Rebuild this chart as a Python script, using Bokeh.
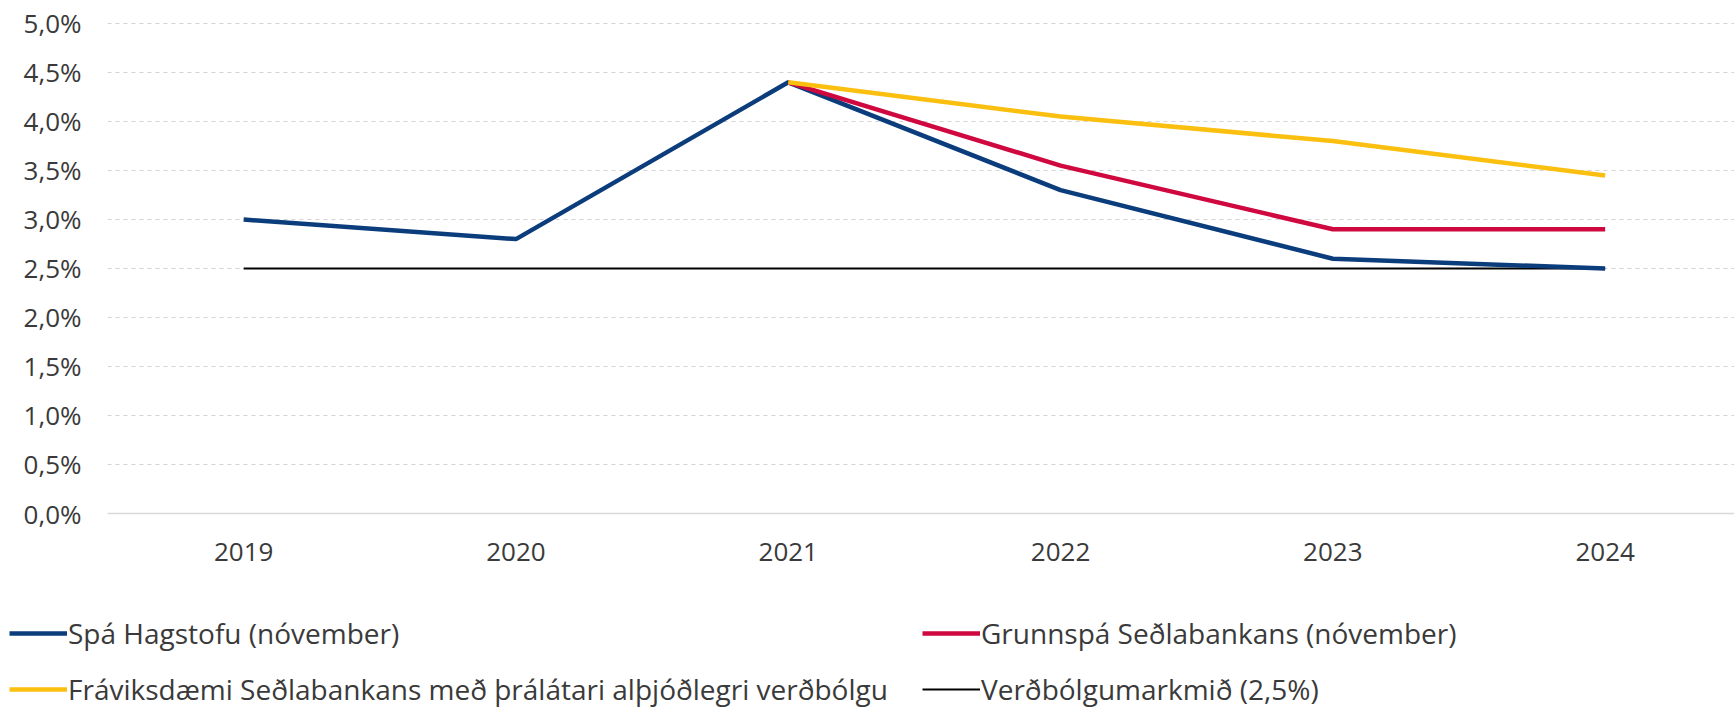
from bokeh.plotting import figure
from bokeh.layouts import column
from bokeh.models import (Range1d, FixedTicker, CustomJSTickFormatter,
                          Legend, LegendItem)
from bokeh.embed import file_html
from bokeh.resources import INLINE

years = ["2019", "2020", "2021", "2022", "2023", "2024"]
hagstofa = [3.0, 2.8, 4.4, 3.3, 2.6, 2.5]
sb_years = ["2021", "2022", "2023", "2024"]
grunnspa = [4.4, 3.55, 2.9, 2.9]
fravik = [4.4, 4.05, 3.8, 3.45]
target = [2.5, 2.5, 2.5, 2.5, 2.5, 2.5]
y_ticks = [0.0, 0.5, 1.0, 1.5, 2.0, 2.5, 3.0, 3.5, 4.0, 4.5, 5.0]

labels = ["Spá Hagstofu (nóvember)",
          "Grunnspá Seðlabankans (nóvember)",
          "Fráviksdæmi Seðlabankans með þrálátari alþjóðlegri verðbólgu",
          "Verðbólgumarkmið (2,5%)"]

colors = {"hag": "#0b3d7c", "grunn": "#cf0840", "frav": "#fbbf0f", "target": "#000000"}

# positions of the categories on a numeric axis
pos = {y: i for i, y in enumerate(years)}
x_all = [pos[y] for y in years]
x_sb = [pos[y] for y in sb_years]

FONT = "Open Sans"
TXT = "#3a3a3a"

p = figure(width=1734, height=593, output_backend="svg", toolbar_location=None,
           x_range=Range1d(-0.5, 5.475),
           y_range=Range1d(0, 5.153),
           min_border_left=107, min_border_right=0, min_border_top=8,
           min_border_bottom=80)
p.outline_line_color = None

p.line(x_all, target, line_color=colors["target"], line_width=2.2)
p.line(x_all, hagstofa, line_color=colors["hag"], line_width=4.5)
p.line(x_sb, grunnspa, line_color=colors["grunn"], line_width=4.5)
p.line(x_sb, fravik, line_color=colors["frav"], line_width=4.5)

p.yaxis.ticker = FixedTicker(ticks=y_ticks)
p.yaxis.formatter = CustomJSTickFormatter(code="return tick.toFixed(1).replace('.', ',') + '%';")
p.yaxis.axis_line_color = None
p.yaxis.major_tick_line_color = None
p.yaxis.minor_tick_line_color = None
p.yaxis.major_label_standoff = 20
p.yaxis.major_label_text_font = FONT
p.yaxis.major_label_text_font_size = "26px"
p.yaxis.major_label_text_color = TXT

p.xaxis.ticker = FixedTicker(ticks=x_all)
p.xaxis.major_label_overrides = {pos[y]: y for y in years}
p.xaxis.axis_line_color = "#d9d9d9"
p.xaxis.axis_line_width = 1.5
p.xaxis.major_tick_line_color = None
p.xaxis.minor_tick_line_color = None
p.xaxis.major_label_standoff = 23
p.xaxis.major_label_text_font = FONT
p.xaxis.major_label_text_font_size = "26px"
p.xaxis.major_label_text_color = TXT

p.xgrid.grid_line_color = None
p.ygrid.grid_line_color = "#d4d4d4"
p.ygrid.grid_line_dash = "4 4"
p.ygrid.grid_line_width = 1.2

# legend panel below the chart
lg = figure(width=1734, height=115, output_backend="svg", toolbar_location=None,
            x_range=Range1d(0, 1), y_range=Range1d(0, 1),
            x_axis_type=None, y_axis_type=None,
            min_border_left=0, min_border_right=0, min_border_top=0, min_border_bottom=0)
lg.outline_line_color = None
lg.xgrid.grid_line_color = None
lg.ygrid.grid_line_color = None
nan = float("nan")
k_h = lg.line([nan], [nan], line_color=colors["hag"], line_width=4.5)
k_g = lg.line([nan], [nan], line_color=colors["grunn"], line_width=4.5)
k_f = lg.line([nan], [nan], line_color=colors["frav"], line_width=4.5)
k_t = lg.line([nan], [nan], line_color=colors["target"], line_width=2.2)

common = dict(orientation="vertical", glyph_width=58, glyph_height=30, label_height=30,
              label_standoff=1, spacing=18, padding=0, margin=0,
              border_line_color=None, background_fill_alpha=0,
              label_text_font=FONT, label_text_font_size="28px",
              label_text_color=TXT)
legend1 = Legend(items=[LegendItem(label=labels[0], renderers=[k_h]),
                        LegendItem(label=labels[2], renderers=[k_f])],
                 location=(9, 0), **common)
legend2 = Legend(items=[LegendItem(label=labels[1], renderers=[k_g]),
                        LegendItem(label=labels[3], renderers=[k_t])],
                 location=(922, 0), **common)
lg.add_layout(legend1, "center")
lg.add_layout(legend2, "center")

for fig in (p, lg):
    if "frame_align" in fig.properties():
        fig.frame_align = False

layout = column(p, lg, spacing=0)
open("out.html", "w").write(file_html(layout, INLINE))
